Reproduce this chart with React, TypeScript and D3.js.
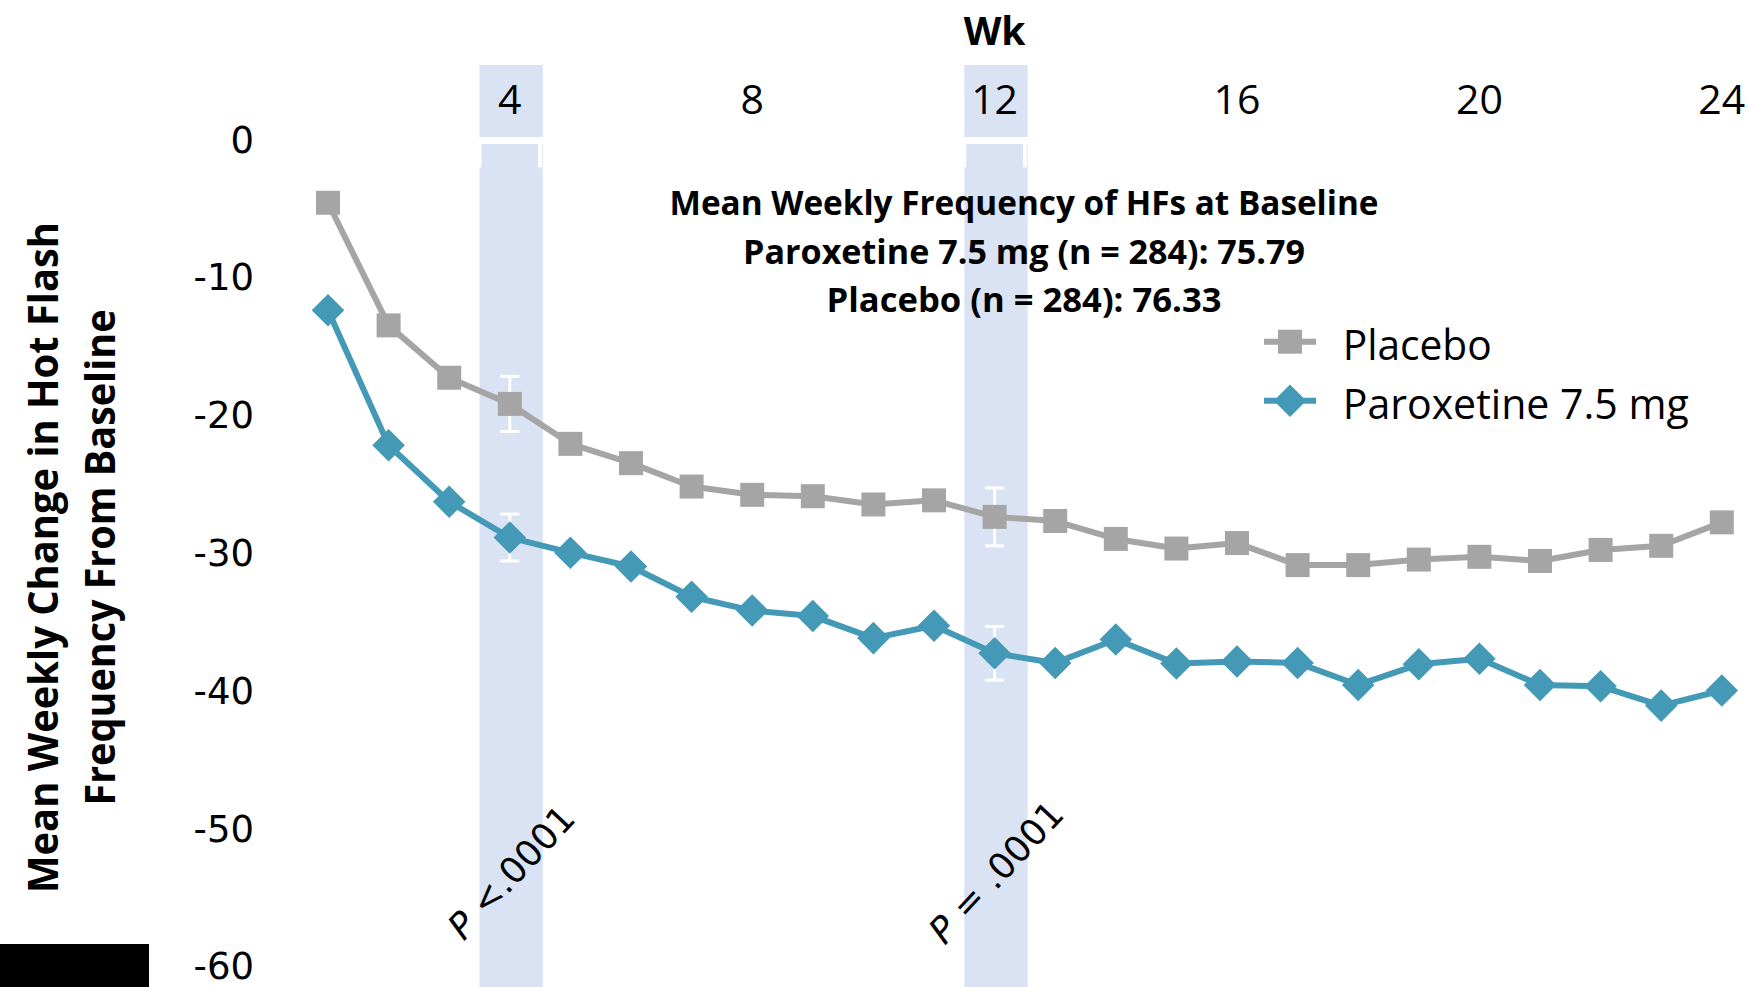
import * as d3 from "d3";

const W = 1749;
const H = 987;

// weeks on study
const weeks = [1, 2, 3, 4, 5, 6, 7, 8, 9, 10, 11, 12, 13, 14, 15, 16, 17, 18, 19, 20, 21, 22, 23, 24];
const placebo = [
  -4.6, -13.5, -17.3, -19.2, -22.1, -23.5, -25.2, -25.8, -25.9, -26.5, -26.2, -27.4,
  -27.7, -29.0, -29.7, -29.3, -30.9, -30.9, -30.5, -30.3, -30.6, -29.8, -29.5, -27.8,
];
const paroxetine = [
  -12.4, -22.2, -26.3, -28.9, -30.0, -31.0, -33.2, -34.2, -34.6, -36.2, -35.3, -37.3,
  -38.0, -36.3, -38.05, -37.9, -38.0, -39.6, -38.1, -37.7, -39.6, -39.7, -41.1, -40.0,
];
const errWeeks = [4, 12];
const placeboErr = [2.0, 2.1];
const paroxetineErr = [1.7, 1.95];
const pLabels = ["<.0001", "= .0001"];
const xTicks = [4, 8, 12, 16, 20, 24];
const yTicks = [0, -10, -20, -30, -40, -50, -60];
const note = [
  "Mean Weekly Frequency of HFs at Baseline",
  "Paroxetine 7.5 mg (n = 284): 75.79",
  "Placebo (n = 284): 76.33",
];
const noteWidths = [709, 562, 395];
const seriesNames = ["Placebo", "Paroxetine 7.5 mg"];

const GRAY = "#A5A5A5";
const TEAL = "#4499B7";
const BAND = "#DAE3F3";
const SANS = "'Open Sans', sans-serif";
const GEO = "'DejaVu Sans', sans-serif";

export default function App() {
  const x = d3.scaleLinear().domain([0, 24]).range([267.4, 1721.8]);
  const y = d3.scaleLinear().domain([0, -60]).range([139.4, 966]);
  const step = x(1) - x(0);

  const line = d3
    .line<number>()
    .x((_, i) => x(weeks[i]))
    .y((d) => y(d));

  const square = d3.symbol(d3.symbolSquare, 24 * 24)()!;
  const diamond = d3.symbol(d3.symbolSquare, 23 * 23)()!;

  const halfWeeks = d3.range(0.5, 24.6, 1);

  return (
    <svg
      width={W}
      height={H}
      viewBox={`0 0 ${W} ${H}`}
      style={{ position: "absolute", left: 0, top: 0, background: "#fff" }}
    >
      {/* highlighted weeks */}
      <g className="bands">
        {errWeeks.map((w) => (
          <rect key={w} x={x(w - 0.5)} y={65} width={step * 1.045} height={H - 65} fill={BAND} />
        ))}
      </g>

      {/* white category axis at y = 0 */}
      <g className="x-axis">
        <line x1={x(0.5)} x2={x(24.5)} y1={y(0) + 1} y2={y(0) + 1} stroke="#fff" strokeWidth={7} />
        {halfWeeks.map((h) => (
          <line key={h} x1={x(h)} x2={x(h)} y1={y(0)} y2={y(0) + 28} stroke="#fff" strokeWidth={4} />
        ))}
      </g>

      {xTicks.map((t) => (
        <text key={t} x={x(t)} y={113.5} textAnchor="middle" fontFamily={SANS} fontSize={41}>
          {t}
        </text>
      ))}
      <text x={x(12)} y={45} textAnchor="middle" fontFamily={SANS} fontSize={39} fontWeight="bold">
        Wk
      </text>

      {yTicks.map((t) => (
        <text key={t} x={254} y={y(t)} dy="0.36em" textAnchor="end" fontFamily={GEO} fontSize={37}>
          {t}
        </text>
      ))}

      {/* y axis title */}
      <g transform="translate(58,557.5) rotate(-90)">
        <text textAnchor="middle" fontFamily={SANS} fontSize={41} fontWeight="bold" textLength={671} lengthAdjust="spacingAndGlyphs">
          Mean Weekly Change in Hot Flash
        </text>
      </g>
      <g transform="translate(115,557.5) rotate(-90)">
        <text textAnchor="middle" fontFamily={SANS} fontSize={41} fontWeight="bold" textLength={496} lengthAdjust="spacingAndGlyphs">
          Frequency From Baseline
        </text>
      </g>

      {/* series lines */}
      <path d={line(placebo)!} fill="none" stroke={GRAY} strokeWidth={6} strokeLinejoin="round" />
      <path d={line(paroxetine)!} fill="none" stroke={TEAL} strokeWidth={6} strokeLinejoin="round" />

      {/* error bars */}
      {errWeeks.map((w, i) =>
        [
          { v: placebo[weeks.indexOf(w)], e: placeboErr[i] },
          { v: paroxetine[weeks.indexOf(w)], e: paroxetineErr[i] },
        ].map((d, j) => (
          <g key={`${w}-${j}`} stroke="#fff" strokeWidth={3}>
            <line x1={x(w)} x2={x(w)} y1={y(d.v + d.e)} y2={y(d.v - d.e)} />
            <line x1={x(w) - 9.5} x2={x(w) + 9.5} y1={y(d.v + d.e)} y2={y(d.v + d.e)} />
            <line x1={x(w) - 9.5} x2={x(w) + 9.5} y1={y(d.v - d.e)} y2={y(d.v - d.e)} />
          </g>
        ))
      )}

      {/* markers */}
      {placebo.map((v, i) => (
        <path key={`p${i}`} d={square} transform={`translate(${x(weeks[i])},${y(v)})`} fill={GRAY} />
      ))}
      {paroxetine.map((v, i) => (
        <path key={`d${i}`} d={diamond} transform={`translate(${x(weeks[i])},${y(v)}) rotate(45)`} fill={TEAL} />
      ))}

      {/* baseline note */}
      {note.map((s, i) => (
        <text
          key={s}
          x={1024}
          y={215 + i * 48.5}
          textAnchor="middle"
          fontFamily={SANS}
          fontSize={34}
          fontWeight="bold"
          textLength={noteWidths[i]}
          lengthAdjust="spacingAndGlyphs"
        >
          {s}
        </text>
      ))}

      {/* legend */}
      {seriesNames.map((name, i) => {
        const ly = 341.7 + i * 59;
        return (
          <g key={name}>
            <line x1={1264} x2={1316} y1={ly} y2={ly} stroke={i === 0 ? GRAY : TEAL} strokeWidth={6} />
            <path
              d={i === 0 ? square : diamond}
              transform={`translate(1290,${ly})${i === 0 ? "" : " rotate(45)"}`}
              fill={i === 0 ? GRAY : TEAL}
            />
            <text
              x={1342.7}
              y={ly + 18.3}
              fontFamily={SANS}
              fontSize={42}
              textLength={i === 0 ? 149 : 346}
              lengthAdjust="spacingAndGlyphs"
            >
              {name}
            </text>
          </g>
        );
      })}

      {/* p values */}
      {errWeeks.map((w, i) => (
        <text
          key={w}
          transform={`translate(${x(w - 0.5) + step * 0.52},872) rotate(-47)`}
          textAnchor="middle"
          dy="0.36em"
          fontFamily={GEO}
          fontSize={36}
        >
          <tspan fontStyle="italic">P</tspan> {pLabels[i]}
        </text>
      ))}

      <rect x={0} y={944} width={149} height={H - 944} fill="#000" />
    </svg>
  );
}
